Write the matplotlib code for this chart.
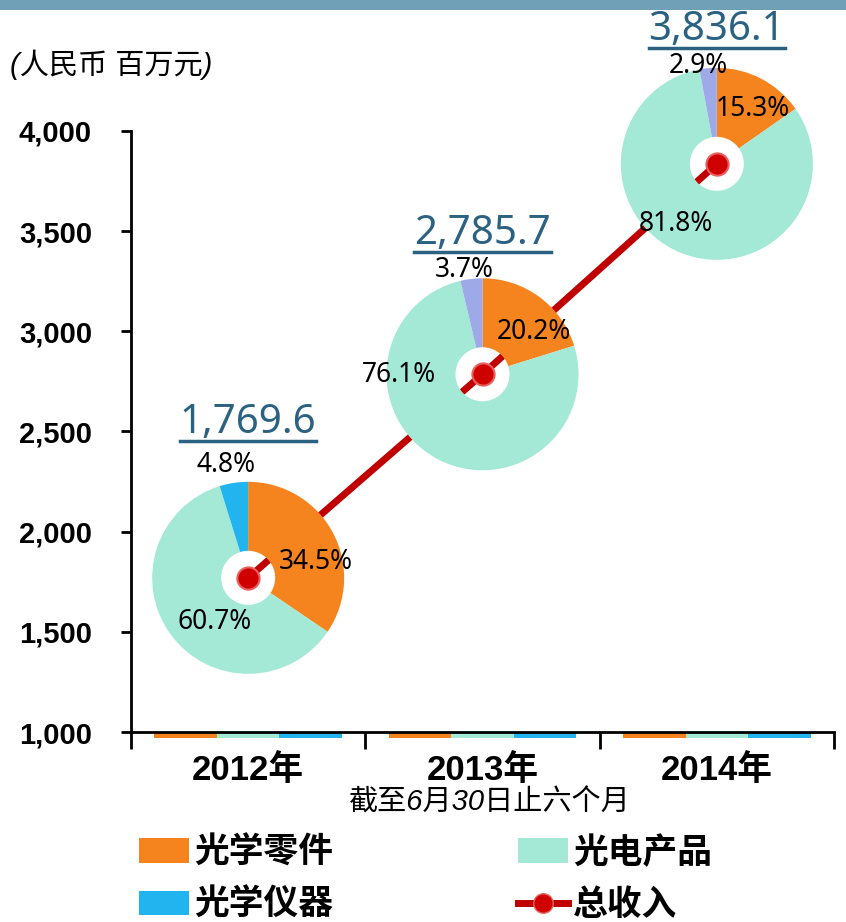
import matplotlib
matplotlib.use("Agg")
import matplotlib.pyplot as plt
from matplotlib.patches import Patch, Rectangle
from matplotlib.lines import Line2D
import numpy as np

# ---------------- data ----------------
years = ["2012年", "2013年", "2014年"]
total_revenue = [1769.6, 2785.7, 3836.1]
optical_components = [34.5, 20.2, 15.3]   # 光学零件 %
optoelectronic = [60.7, 76.1, 81.8]       # 光电产品 %
optical_instruments = [4.8, 3.7, 2.9]     # 光学仪器 %
series_names = ["光学零件", "光电产品", "光学仪器"]
total_name = "总收入"
y_ticks = [1000, 1500, 2000, 2500, 3000, 3500, 4000]
unit_label = "(人民币 百万元)"
sub_label = "截至6月30日止六个月"

# ---------------- style ----------------
W, H = 846, 922
DPI = 100
c_orange = "#f5841f"
c_green = "#a3e9d5"
c_blue = "#22b4ee"
c_lav = "#9eaae8"
c_red = "#c00000"
c_val = "#2b6282"
pie_colors = [[c_orange, c_green, c_blue],
              [c_orange, c_green, c_lav],
              [c_orange, c_green, c_lav]]
CJK = ["Liberation Sans", "Noto Sans CJK SC"]

fig = plt.figure(figsize=(W / DPI, H / DPI), dpi=DPI)
fig.patch.set_facecolor("white")

# top band
fig.patches.append(Rectangle((0, 1 - 10 / H), 1, 10 / H, transform=fig.transFigure,
                             facecolor="#6fa0b8", edgecolor="none"))

def fx(px):
    return px / W

def fy(py):
    return 1 - py / H

ax_l, ax_r, ax_t, ax_b = 131, 834, 131, 732
ax = fig.add_axes([fx(ax_l), fy(ax_b), fx(ax_r) - fx(ax_l), fy(ax_t) - fy(ax_b)])
x = np.arange(len(years))
ax.set_xlim(-0.5, 2.5)
ax.set_ylim(1000, 4000)

for s in ["top", "right"]:
    ax.spines[s].set_visible(False)
for s in ["left", "bottom"]:
    ax.spines[s].set_linewidth(2)

ax.set_yticks(y_ticks)
ax.set_yticklabels([f"{v:,}" for v in y_ticks], fontsize=21, fontweight="bold",
                   family="Liberation Sans")
ax.tick_params(axis="y", length=7, width=2, pad=21)
ax.set_xticks(x)
ax.set_xticklabels(years, fontsize=25, fontweight="bold", family=CJK)
ax.tick_params(axis="x", length=0, pad=16)
ax.set_xticks([-0.5, 0.5, 1.5, 2.5], minor=True)
ax.tick_params(axis="x", which="minor", length=12, width=2, direction="out")

# stub bars of the three series at the axis floor
bw = 0.8 / 3
stub = 28
for i, (name, col) in enumerate(zip(series_names, [c_orange, c_green, c_blue])):
    ax.bar(x + (i - 1) * bw, [-stub] * len(x), bottom=1000, width=bw, color=col,
           clip_on=False, zorder=1)

# total revenue line (under the pies)
ax.plot(x, total_revenue, color=c_red, lw=5, zorder=2, solid_capstyle="butt")

fig.text(fx(10), fy(65), unit_label, ha="left", va="center",
         fontsize=21, family=CJK, style="italic")
fig.text(fx(490), fy(803), sub_label, ha="center", va="center", fontsize=21,
         family=CJK, style="italic")

# pies
R = 96
hole = 27 / R
label_offsets = [
    {"pcts": [(68, 16), (-34, -44), (-22, 113)], "val": 155},
    {"pcts": [(51, 42), (-84, -1), (-18, 104)], "val": 140},
    {"pcts": [(36, 55), (-41, -60), (-19, 98)], "val": 134},
]
renderer = fig.canvas.get_renderer()
val_texts = []
for i in range(len(years)):
    dx, dy = ax.transData.transform((x[i], total_revenue[i]))
    cx, cy = dx / W, dy / H
    pax = fig.add_axes([cx - R / W, cy - R / H, 2 * R / W, 2 * R / H])
    vals = [optical_components[i], optoelectronic[i], optical_instruments[i]]
    pax.pie(vals, colors=pie_colors[i], startangle=90, counterclock=False, radius=1,
            wedgeprops=dict(width=1 - hole, edgecolor="none"))
    pax.set_xlim(-1, 1)
    pax.set_ylim(-1, 1)
    pax.set_aspect("equal")
    pax.axis("off")
    for v, (ox, oy) in zip(vals, label_offsets[i]["pcts"]):
        pax.text(ox / R, oy / R, f"{v:.1f}%", ha="center", va="center",
                 fontsize=19, family="Noto Sans", color="black", clip_on=False)
    t = pax.text(0, label_offsets[i]["val"] / R, f"{total_revenue[i]:,.1f}",
                 ha="center", va="center", fontsize=29, family="Noto Sans",
                 color=c_val, clip_on=False)
    val_texts.append(t)

# overlay axes for markers
ov = fig.add_axes(ax.get_position())
ov.set_xlim(ax.get_xlim())
ov.set_ylim(ax.get_ylim())
ov.axis("off")
ov.plot(x, total_revenue, ls="none", marker="o", ms=16, mfc="#d00000",
        mec="#e86060", mew=1.5, zorder=5)

# underline the value labels
for t in val_texts:
    bb = t.get_window_extent(renderer)
    fig.add_artist(Line2D([bb.x0 / W, bb.x1 / W], [(bb.y0 + 2) / H, (bb.y0 + 2) / H],
                          transform=fig.transFigure, color=c_val, lw=2.5))

# legend
handles = [
    Patch(facecolor=c_orange, label=series_names[0]),
    Patch(facecolor=c_blue, label=series_names[2]),
    Patch(facecolor=c_green, label=series_names[1]),
    Line2D([0], [0], color=c_red, lw=5, marker="o", ms=14, mfc="#d00000",
           mec="#e86060", label=total_name),
]
fig.legend(handles=handles, ncol=2, loc="center left",
           bbox_to_anchor=(fx(139), fy(879)), frameon=False,
           prop={"family": CJK, "weight": "bold", "size": 25},
           handlelength=1.45, handleheight=0.7, handletextpad=0.15,
           columnspacing=5.3, labelspacing=0.55, borderaxespad=0, borderpad=0)

fig.savefig("out.png", dpi=DPI)
